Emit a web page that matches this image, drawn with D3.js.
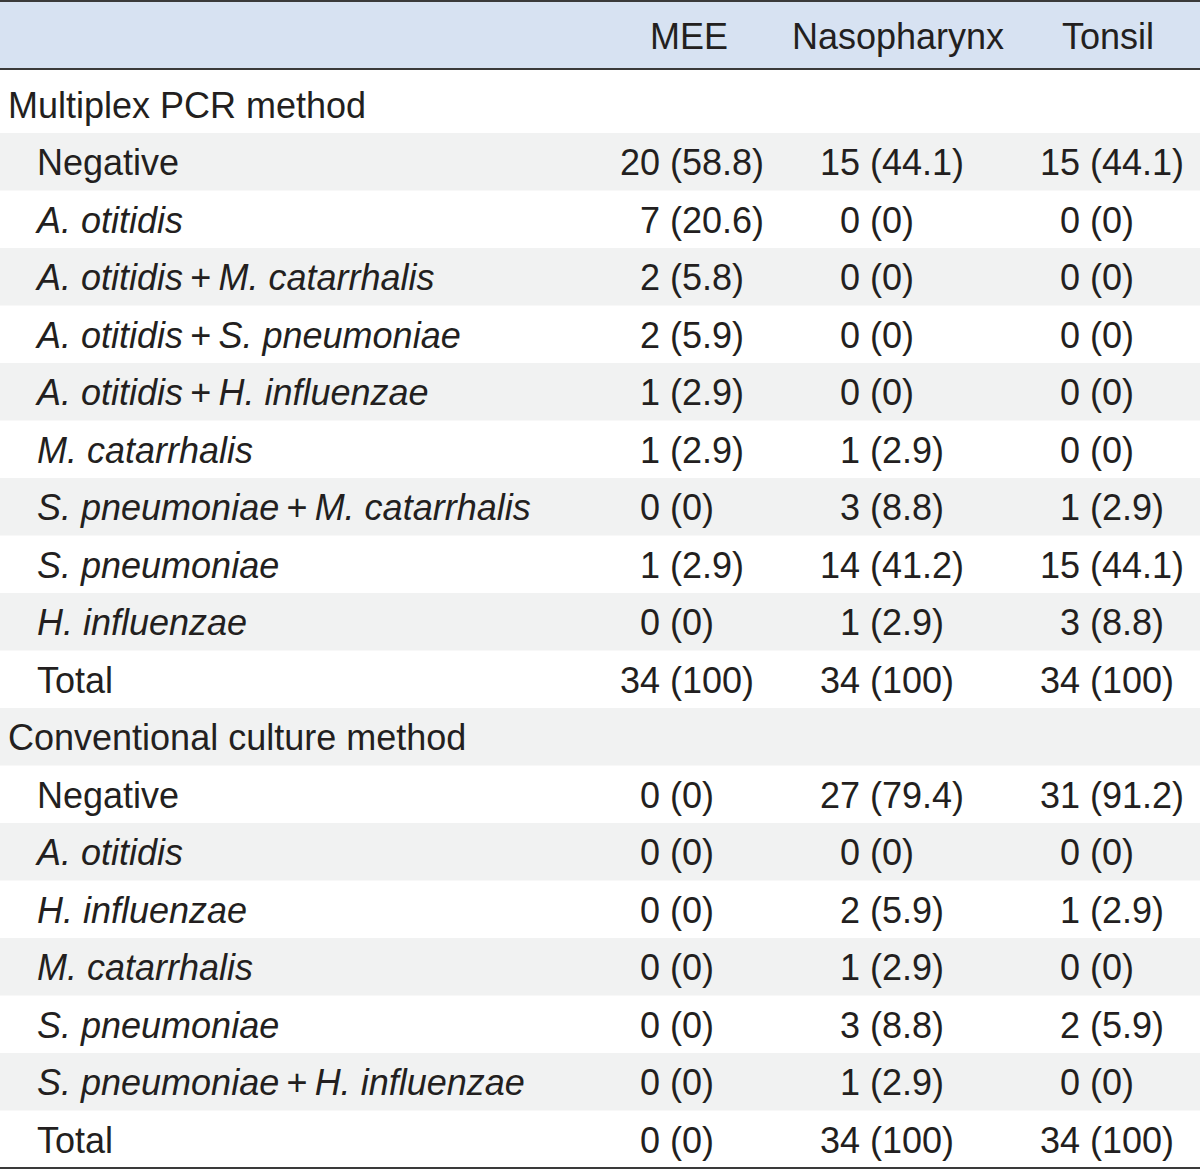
<!DOCTYPE html>
<html>
<head>
<meta charset="utf-8">
<script src="https://cdn.jsdelivr.net/npm/d3@7"></script>
<style>
  html, body { margin: 0; padding: 0; background: #ffffff; }
  svg { display: block; }
</style>
</head>
<body>
<svg id="chart" width="1200" height="1174"></svg>
<script>
// ---- data ----
const columns = ["MEE", "Nasopharynx", "Tonsil"];
const rowLabels = [
  "Multiplex PCR method",
  "Negative",
  "A. otitidis",
  "A. otitidis + M. catarrhalis",
  "A. otitidis + S. pneumoniae",
  "A. otitidis + H. influenzae",
  "M. catarrhalis",
  "S. pneumoniae + M. catarrhalis",
  "S. pneumoniae",
  "H. influenzae",
  "Total",
  "Conventional culture method",
  "Negative",
  "A. otitidis",
  "H. influenzae",
  "M. catarrhalis",
  "S. pneumoniae",
  "S. pneumoniae + H. influenzae",
  "Total"
];
const rowIsGroup = [true,false,false,false,false,false,false,false,false,false,false,true,false,false,false,false,false,false,false];
const rowIsItalic = [false,false,true,true,true,true,true,true,true,true,false,false,false,true,true,true,true,true,false];

const meeCount   = [null,20,7,2,2,1,1,0,1,0,34,null,0,0,0,0,0,0,0];
const meePct     = [null,58.8,20.6,5.8,5.9,2.9,2.9,0,2.9,0,100,null,0,0,0,0,0,0,0];
const nasoCount  = [null,15,0,0,0,0,1,3,14,1,34,null,27,0,2,1,3,1,34];
const nasoPct    = [null,44.1,0,0,0,0,2.9,8.8,41.2,2.9,100,null,79.4,0,5.9,2.9,8.8,2.9,100];
const tonCount   = [null,15,0,0,0,0,0,1,15,3,34,null,31,0,1,0,2,0,34];
const tonPct     = [null,44.1,0,0,0,0,0,2.9,44.1,8.8,100,null,91.2,0,2.9,0,5.9,0,100];

const counts = [meeCount, nasoCount, tonCount];
const pcts = [meePct, nasoPct, tonPct];

// ---- layout ----
const W = 1200, H = 1174;
const fontFamily = "'Liberation Sans', Arial, Helvetica, sans-serif";
const fs = 36;
const ink = "#231f20";
const svg = d3.select("#chart");

const headerTop = 1, headerBottom = 69;
const rowStep = 57.5;
const firstRowTop = 75.5;
const y = d3.scaleLinear().domain([0, rowLabels.length]).range([firstRowTop, firstRowTop + rowStep * rowLabels.length]);

const colCenter = d3.scaleOrdinal().domain(columns).range([689, 898, 1108]);
const colStart = d3.scaleOrdinal().domain(columns).range([620, 820, 1040]);
const digitW = 20;

// header background
svg.append("rect").attr("x", 0).attr("y", headerTop).attr("width", W).attr("height", headerBottom - headerTop)
  .attr("fill", "#d7e2f2");

// stripes
svg.append("g").selectAll("rect")
  .data(rowLabels.map((d, i) => i).filter(i => i % 2 === 1))
  .join("rect")
  .attr("x", 0).attr("width", W)
  .attr("y", i => y(i)).attr("height", i => y(i + 1) - y(i))
  .attr("fill", "#f1f2f2");

// lines
const lineY = [headerTop, headerBottom, y(rowLabels.length)];
svg.append("g").selectAll("line").data(lineY).join("line")
  .attr("x1", 0).attr("x2", W).attr("y1", d => d).attr("y2", d => d)
  .attr("stroke", "#3a3a3a").attr("stroke-width", 2);

// header text
svg.append("g").selectAll("text").data(columns).join("text")
  .attr("x", d => colCenter(d)).attr("y", 49)
  .attr("text-anchor", "middle")
  .attr("font-family", fontFamily).attr("font-size", fs).attr("fill", ink)
  .text(d => d);

// row labels
const labelG = svg.append("g");
rowLabels.forEach((lab, i) => {
  const t = labelG.append("text")
    .attr("x", rowIsGroup[i] ? 8 : 37)
    .attr("y", y(i) + 42)
    .attr("font-family", fontFamily).attr("font-size", fs).attr("fill", ink);
  if (rowIsItalic[i]) {
    const parts = lab.split(" + ");
    parts.forEach((p, k) => {
      if (k > 0) t.append("tspan").attr("font-style", "normal").text("\u2009+\u2009");
      t.append("tspan").attr("font-style", "italic").text(p);
    });
  } else {
    t.text(lab);
  }
});

// values
const fmtPct = v => Number.isInteger(v) ? String(v) : v.toFixed(1);
const valG = svg.append("g");
columns.forEach((c, ci) => {
  const cells = rowLabels.map((d, i) => ({ i, n: counts[ci][i], p: pcts[ci][i] })).filter(d => d.n !== null);
  valG.append("g").selectAll("text").data(cells).join("text")
    .attr("x", d => colStart(c) + (d.n < 10 ? digitW : 0))
    .attr("y", d => y(d.i) + 42)
    .attr("font-family", fontFamily).attr("font-size", fs).attr("fill", ink)
    .text(d => `${d.n} (${fmtPct(d.p)})`);
});
</script>
</body>
</html>
